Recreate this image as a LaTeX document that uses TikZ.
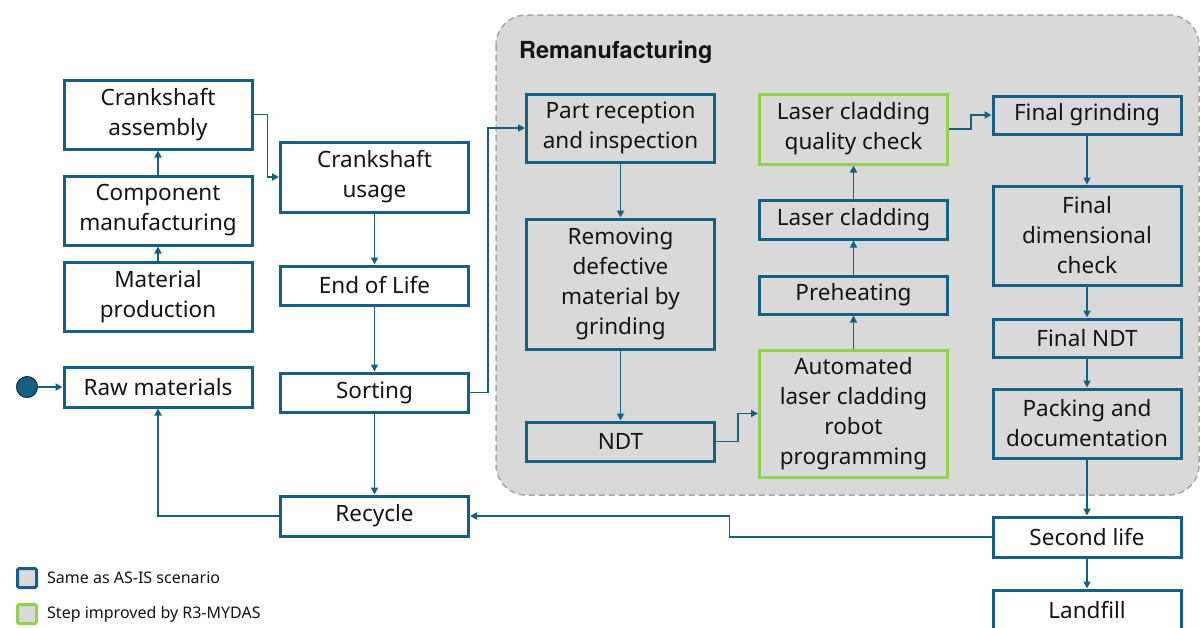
\documentclass[tikz,border=0pt]{standalone}
\usepackage{fontspec}
\setmainfont{Noto Sans}
\newfontfamily\headfont{TeX Gyre Heros}
\usetikzlibrary{arrows.meta}
\definecolor{bl}{HTML}{156082}
\definecolor{gr}{HTML}{92D050}
\definecolor{panel}{HTML}{D9D9D9}
\definecolor{dash}{HTML}{A6A6A6}
\definecolor{txt}{HTML}{141414}
\definecolor{dotline}{HTML}{0E2841}
\tikzset{
  bx/.style={draw=bl, line width=3pt, fill=white, text=txt, align=center,
    inner sep=0pt, minimum width=188pt, font=\fontsize{22.5}{30}\selectfont},
  inbx/.style={bx, fill=none},
  gbx/.style={inbx, draw=gr},
  con/.style={draw=bl, line width=1.8pt, -{Triangle[length=7pt,width=7pt]}},
  legsq/.style={line width=3pt, fill=panel, minimum size=19pt, inner sep=0pt, rounded corners=1.5pt},
  legtxt/.style={anchor=west, text=txt, inner sep=0pt, font=\fontsize{16}{19}\selectfont}
}
\begin{document}
\begin{tikzpicture}[x=1pt, y=-1pt]
\useasboundingbox (0,0) rectangle (1200,627);

% remanufacturing panel
\draw[draw=dash, fill=panel, line width=1.5pt, dash pattern=on 6pt off 4pt,
  rounded corners=30pt] (496,15) rectangle (1199,495);
\node[anchor=west, text=txt, inner sep=0pt, font=\headfont\bfseries\fontsize{23.5}{27}\selectfont]
  (title) at (519,52) {Remanufacturing};

% first life
\node[bx, minimum height=69pt] (cra) at (158,114.5) {Crankshaft\\assembly};
\node[bx, minimum height=69pt] (com) at (158,210.5) {Component\\manufacturing};
\node[bx, minimum height=69pt] (mat) at (158,296.5) {Material\\production};
\node[bx, minimum height=40pt] (raw) at (158,387) {Raw materials};
\node[circle, fill=bl, draw=dotline, line width=1pt, minimum size=21pt, inner sep=0pt] (start) at (27,387) {};

\node[bx, minimum height=70pt] (use) at (374.5,177) {Crankshaft\\usage};
\node[bx, minimum height=39pt] (eol) at (374.5,285.5) {End of Life};
\node[bx, minimum height=39pt] (sor) at (374.5,392.5) {Sorting};
\node[bx, minimum height=40pt] (rec) at (374.5,516) {Recycle};

% remanufacturing steps
\node[inbx, minimum height=68pt] (par) at (620.5,128) {Part reception\\and inspection};
\node[inbx, minimum height=130pt] (rem) at (620.5,284) {Removing\\defective\\material by\\grinding};
\node[inbx, minimum height=39pt] (ndt) at (620.5,441.5) {NDT};

\node[gbx, minimum height=70pt] (lqc) at (853.5,129) {Laser cladding\\quality check};
\node[inbx, minimum height=39pt] (las) at (853.5,219.5) {Laser cladding};
\node[inbx, minimum height=38pt] (pre) at (853.5,295) {Preheating};
\node[gbx, minimum height=127pt] (aut) at (853.5,413.5) {Automated\\laser cladding\\robot\\programming};

\node[inbx, minimum height=38pt] (fgr) at (1087,115) {Final grinding};
\node[inbx, minimum height=99pt] (fdc) at (1087,235.5) {Final\\dimensional\\check};
\node[inbx, minimum height=38pt] (fnd) at (1087,338) {Final NDT};
\node[inbx, minimum height=69pt] (pac) at (1087,423.5) {Packing and\\documentation};

% end of second life
\node[bx, minimum height=40pt] (sec) at (1087,537) {Second life};
\node[bx, minimum height=40pt] (lan) at (1087,610) {Landfill};

% connectors
\draw[con] (mat) -- (com);
\draw[con] (com) -- (cra);
\draw[con] (cra.east) -- ++(14,0) |- (use.west);
\draw[con] (use) -- (eol);
\draw[con] (eol) -- (sor);
\draw[con] (sor) -- (rec);
\draw[con] (rec.west) -| (raw.south);
\draw[con] (start) -- (raw.west);
\draw[con] (sor.east) -- ++(18,0) |- (par.west);
\draw[con] (par) -- (rem);
\draw[con] (rem) -- (ndt);
\draw[con] (ndt.east) -- ++(22,0) |- (aut.west);
\draw[con] (aut) -- (pre);
\draw[con] (pre) -- (las);
\draw[con] (las) -- (lqc);
\draw[con] (lqc.east) -- ++(22,0) |- (fgr.west);
\draw[con] (fgr) -- (fdc);
\draw[con] (fdc) -- (fnd);
\draw[con] (fnd) -- (pac);
\draw[con] (pac) -- (sec);
\draw[con] (sec) -- (lan);
\draw[con] (sec.west) -- ++(-262,0) |- (rec.east);

% legend
\node[legsq, draw=bl] (lg1) at (27,578) {};
\node[legtxt] (lt1) at (47,578) {Same as AS-IS scenario};
\node[legsq, draw=gr] (lg2) at (27,614) {};
\node[legtxt] (lt2) at (47,614) {Step improved by R3-MYDAS};
\end{tikzpicture}
\end{document}
